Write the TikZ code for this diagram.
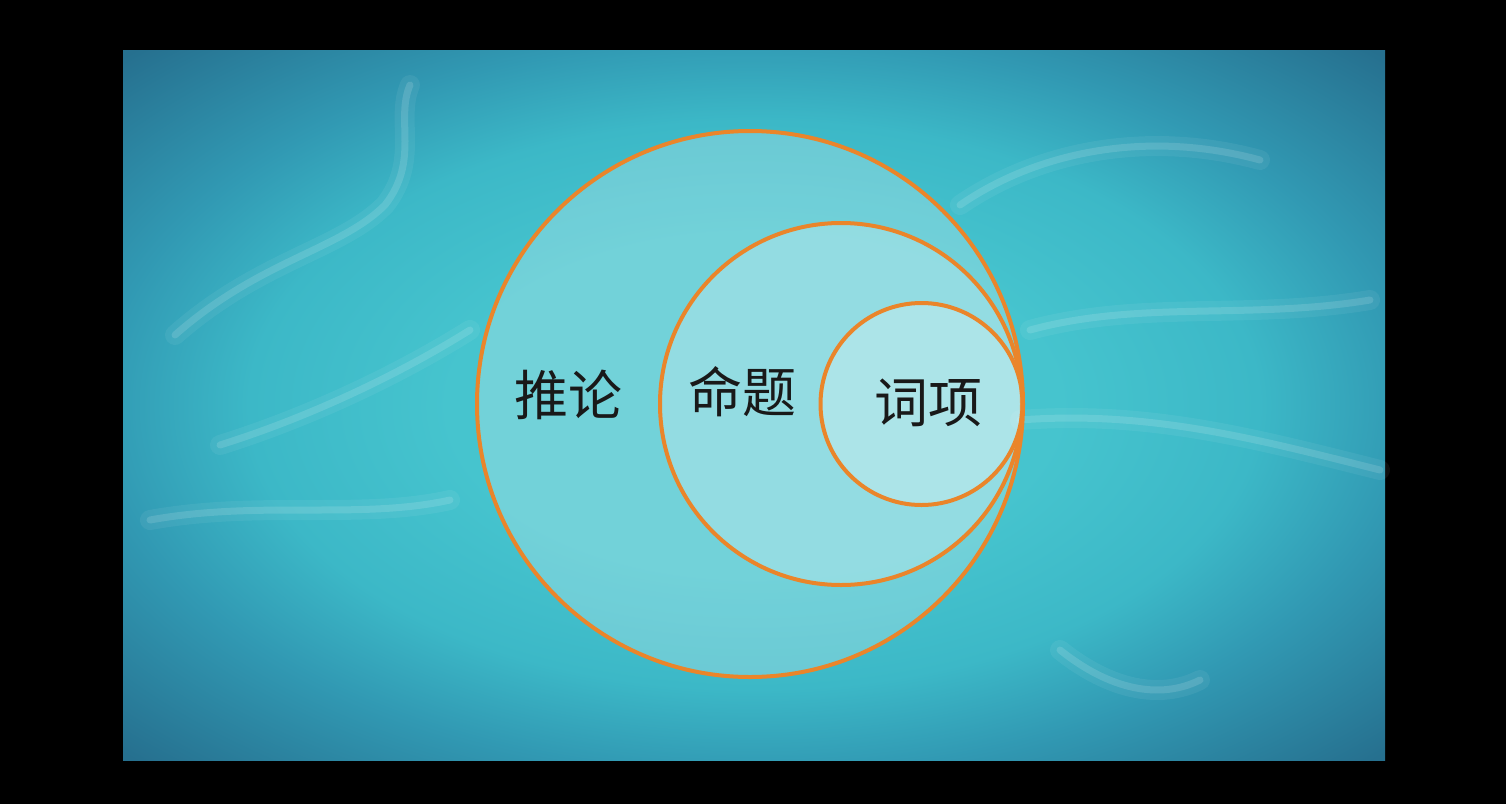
\documentclass[tikz,border=0pt]{standalone}
\usepackage{fontspec}
\newfontfamily\cjk{Noto Sans CJK SC}
\definecolor{ringorange}{HTML}{EA852A}
\definecolor{bgcorner}{HTML}{26708F}
\definecolor{bgdark}{HTML}{3199B3}
\definecolor{bgmid}{HTML}{3CB8C7}
\definecolor{bglight}{HTML}{46C4CE}
\pgfdeclareradialshading{vignette}{\pgfpoint{0bp}{0bp}}{%
  color(0bp)=(bglight); color(12bp)=(bglight); color(20bp)=(bgmid);
  color(26bp)=(bgdark); color(35bp)=(bgcorner); color(50bp)=(bgcorner)}
\tikzset{
  ring/.style={circle, draw=ringorange, line width=2pt, fill=white, fill opacity=0.24, draw opacity=1, inner sep=0pt},
  streakwide/.style={draw=white, opacity=0.06, line width=10pt, line cap=round},
  streak/.style={draw=white, opacity=0.13, line width=3.5pt, line cap=round},
  lbl/.style={font=\cjk\fontsize{27}{30}\selectfont, text=black!90, inner sep=0pt}
}
\begin{document}
\begin{tikzpicture}[x=0.5pt,y=-0.5pt]
\fill[black] (0,0) rectangle (1506,804);
\useasboundingbox (0,0) rectangle (1506,804);
% background panel
\shade[shading=vignette] (123,50) rectangle (1385,760);
% light streaks
\foreach \s in {streakwide,streak}{
  \draw[\s] (175,335) .. controls (260,260) and (340,250) .. (385,205) .. controls (420,160) and (395,120) .. (410,85);
  \draw[\s] (220,445) .. controls (300,420) and (390,380) .. (470,330);
  \draw[\s] (960,205) .. controls (1040,150) and (1150,130) .. (1260,160);
  \draw[\s] (1030,330) .. controls (1140,300) and (1250,320) .. (1370,300);
  \draw[\s] (1020,420) .. controls (1150,410) and (1260,440) .. (1380,470);
  \draw[\s] (1060,650) .. controls (1110,690) and (1160,700) .. (1200,680);
  \draw[\s] (150,520) .. controls (260,500) and (360,520) .. (450,500);
}
% circles
\node[ring, minimum size=273pt] (big) at (750,404) {};
\node[ring, minimum size=181pt] (mid) at (841,404) {};
\node[ring, minimum size=101pt] (small) at (921.5,404) {};
% labels
\node[lbl] (tuilun) at (568,395) {推论};
\node[lbl] (mingti) at (742,392) {命题};
\node[lbl] (cixiang) at (928,403) {词项};
\end{tikzpicture}
\end{document}
